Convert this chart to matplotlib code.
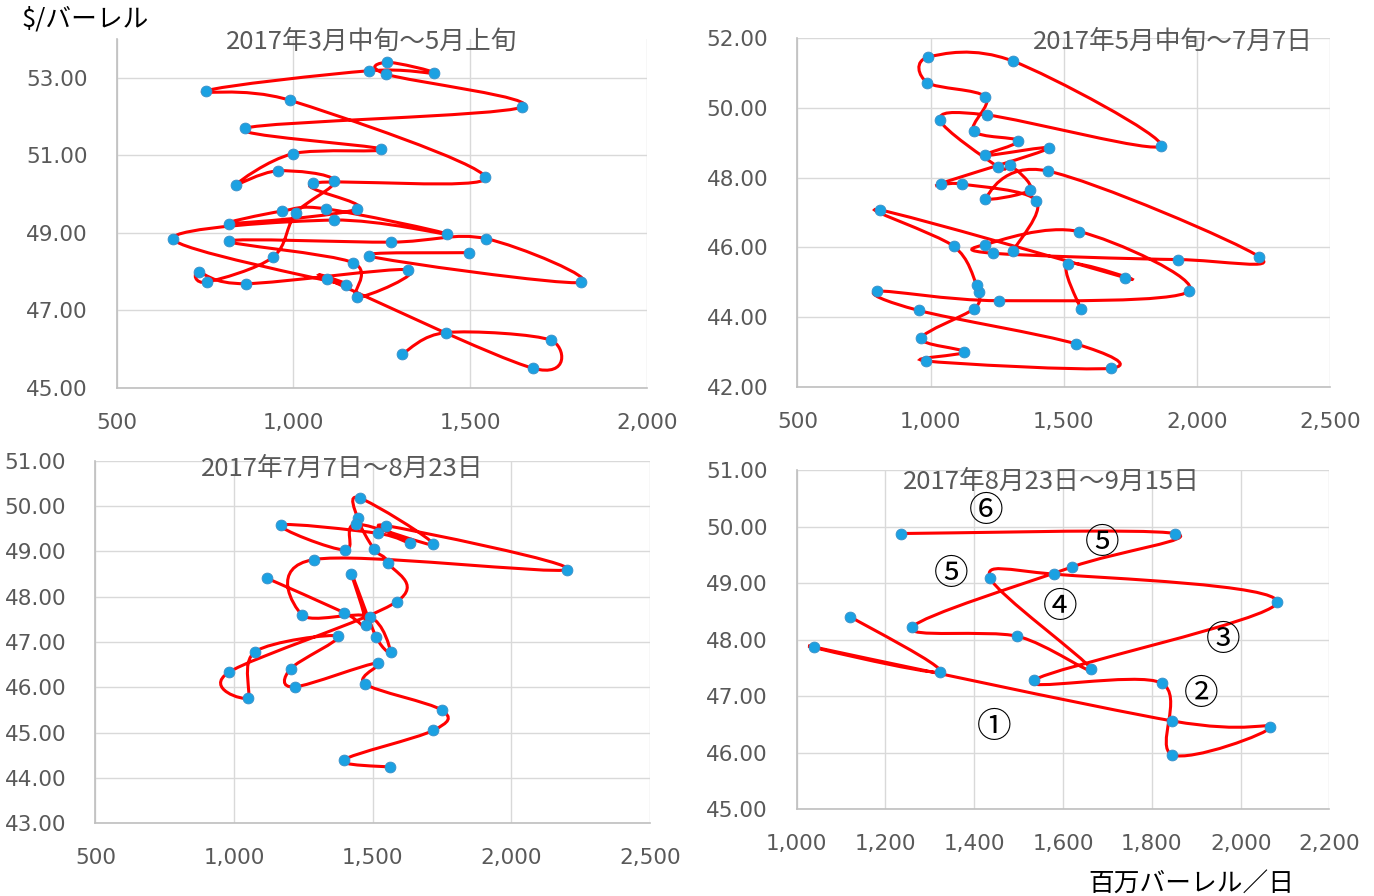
import numpy as np
import matplotlib
matplotlib.use('Agg')
import matplotlib.pyplot as plt
from matplotlib.path import Path
from matplotlib.patches import PathPatch
from matplotlib.ticker import FuncFormatter

plt.rcParams['font.family'] = ['Noto Sans CJK JP', 'DejaVu Sans']

# 2017年3月中旬〜5月上旬 (日付順)
vol_1 = [1498, 1214, 1813, 1545, 1275, 819, 1169, 1179, 1324, 866,
         733, 755, 942, 1007, 1116, 956, 837, 998, 1249, 864,
         1646, 1263, 1266, 1398, 1213, 752, 990, 1543, 1056, 1181,
         819, 967, 1092, 1434, 1114, 659, 1150, 1094, 1677, 1729,
         1433, 1308]
price_1 = [48.49, 48.40, 47.72, 48.85, 48.76, 48.79, 48.23, 47.34, 48.05, 47.69,
           47.98, 47.73, 48.37, 49.51, 50.35, 50.60, 50.24, 51.04, 51.16, 51.70,
           52.24, 53.09, 53.40, 53.12, 53.18, 52.66, 52.42, 50.43, 50.28, 49.62,
           49.24, 49.56, 49.62, 48.97, 49.33, 48.85, 47.65, 47.82, 45.51, 46.23,
           46.43, 45.88]

# 2017年5月中旬〜7月7日
vol_2 = [1309, 1397, 1117, 1039, 1443, 1204, 1330, 1162, 1206, 988,
         991, 1308, 1865, 1212, 1036, 1254, 1299, 1374, 1206, 1441,
         2234, 1929, 1236, 1204, 1559, 1970, 1256, 800, 955, 1545,
         1676, 981, 1125, 965, 1163, 1181, 1173, 1087, 811, 1731,
         1515, 1563]
price_2 = [45.89, 47.34, 47.82, 47.83, 48.84, 48.64, 49.06, 49.34, 50.32, 50.73,
           51.46, 51.35, 48.92, 49.80, 49.65, 48.31, 48.36, 47.66, 47.40, 48.19,
           45.73, 45.65, 45.83, 46.08, 46.45, 44.74, 44.47, 44.74, 44.19, 43.23,
           42.53, 42.74, 43.00, 43.39, 44.24, 44.73, 44.93, 46.03, 47.07, 45.13,
           45.53, 44.24]

# 2017年7月7日〜8月23日
vol_3 = [1564, 1397, 1719, 1749, 1471, 1519, 1219, 1204, 1376, 1077,
         1050, 981, 1587, 1556, 1505, 1446, 1453, 1718, 1440, 1400,
         1169, 1518, 1636, 1547, 2202, 1288, 1245, 1489, 1566, 1514,
         1424, 1476, 1397, 1118]
price_3 = [44.24, 44.40, 45.05, 45.50, 46.08, 46.54, 46.01, 46.41, 47.13, 46.79,
           45.77, 46.33, 47.89, 48.75, 49.05, 49.73, 50.18, 49.16, 49.60, 49.03,
           49.58, 49.40, 49.18, 49.57, 48.60, 48.82, 47.60, 47.56, 46.78, 47.10,
           48.51, 47.38, 47.65, 48.41]

# 2017年8月23日〜9月15日
vol_4 = [1120, 1323, 1039, 1846, 2067, 1846, 1822, 1534, 2082, 1580,
         1436, 1663, 1497, 1260, 1621, 1852, 1234]
price_4 = [48.41, 47.43, 47.87, 46.56, 46.45, 45.96, 47.23, 47.28, 48.66, 49.16,
           49.09, 47.48, 48.06, 48.22, 49.29, 49.88, 49.88]

labels_4 = ['⑥', '⑤', '⑤', '④', '③', '②', '①']
label_x_4 = [1427, 1688, 1348, 1593, 1960, 1911, 1444]
label_y_4 = [50.27, 49.71, 49.15, 48.57, 47.99, 47.02, 46.45]

titles = ['2017年3月中旬～5月上旬', '2017年5月中旬～7月7日',
          '2017年7月7日～8月23日', '2017年8月23日～9月15日']


def smooth_path(x, y):
    # Excel風のスムージング (Catmull-Rom -> Bezier)
    pts = np.column_stack([x, y]).astype(float)
    n = len(pts)
    verts = [pts[0]]
    codes = [Path.MOVETO]
    for i in range(n - 1):
        p0 = pts[i - 1] if i > 0 else pts[i]
        p1 = pts[i]
        p2 = pts[i + 1]
        p3 = pts[i + 2] if i + 2 < n else pts[i + 1]
        verts += [p1 + (p2 - p0) / 6, p2 - (p3 - p1) / 6, p2]
        codes += [Path.CURVE4] * 3
    return Path(verts, codes)


def draw_panel(ax, x, y, xlim, xstep, ylim, ystep, title, tpos):
    ax.add_patch(PathPatch(smooth_path(x, y), facecolor='none',
                           edgecolor='#FF0000', lw=2.2, zorder=2))
    ax.plot(x, y, 'o', color='#1BA1E2', mec='#3A8FC8', mew=0.6,
            ms=7.8, zorder=3)
    ax.set_xlim(xlim)
    ax.set_ylim(ylim)
    ax.set_xticks(np.arange(xlim[0], xlim[1] + 1, xstep))
    ax.set_yticks(np.arange(ylim[0], ylim[1] + 0.01, ystep))
    ax.xaxis.set_major_formatter(FuncFormatter(lambda v, p: f'{v:,.0f}'))
    ax.yaxis.set_major_formatter(FuncFormatter(lambda v, p: f'{v:.2f}'))
    ax.grid(True, color='#D9D9D9', lw=1)
    ax.set_axisbelow(True)
    for s in ['top', 'right']:
        ax.spines[s].set_visible(False)
    for s in ['left', 'bottom']:
        ax.spines[s].set_color('#BFBFBF')
        ax.spines[s].set_linewidth(1.2)
    ax.tick_params(axis='both', length=0, labelsize=15.5, labelcolor='#595959')
    ax.tick_params(axis='y', pad=21)
    ax.tick_params(axis='x', pad=18)
    for lab in ax.get_xticklabels() + ax.get_yticklabels():
        lab.set_family('DejaVu Sans')
    ax.text(tpos[0], tpos[1], title, transform=ax.transAxes, ha='center',
            va='center', fontsize=18.5, color='#595959')


fig = plt.figure(figsize=(13.74, 8.96), dpi=100)
ax1 = fig.add_axes([0.0848, 0.5670, 0.3861, 0.3895])
ax2 = fig.add_axes([0.5804, 0.5684, 0.3876, 0.3888])
ax3 = fig.add_axes([0.0694, 0.0811, 0.4035, 0.4047])
ax4 = fig.add_axes([0.5798, 0.0971, 0.3878, 0.3780])

draw_panel(ax1, vol_1, price_1, (500, 2000), 500, (45, 54), 2, titles[0], (0.482, 0.991))
ax1.set_yticks(np.arange(45, 54, 2))
draw_panel(ax2, vol_2, price_2, (500, 2500), 500, (42, 52), 2, titles[1], (0.705, 0.989))
draw_panel(ax3, vol_3, price_3, (500, 2500), 500, (43, 51), 1, titles[2], (0.445, 0.977))
draw_panel(ax4, vol_4, price_4, (1000, 2200), 200, (45, 51), 1, titles[3], (0.479, 0.965))

for lab, lx, ly in zip(labels_4, label_x_4, label_y_4):
    ax4.text(lx, ly, lab, ha='center', va='center', fontsize=25, color='black')

fig.text(0.016, 0.978, '$/バーレル', ha='left', va='center', fontsize=18.5, color='black')
fig.text(0.792, 0.0134, '百万バーレル／日', ha='left', va='center', fontsize=18.5, color='black')

fig.savefig('out.png', dpi=100)
